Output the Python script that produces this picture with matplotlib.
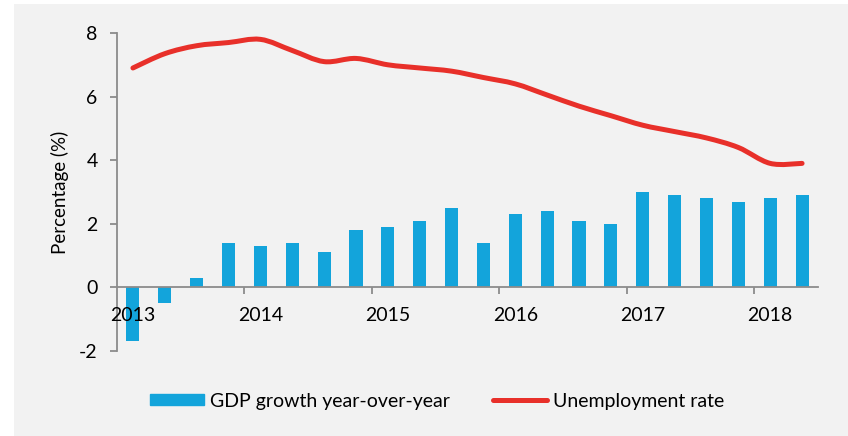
import matplotlib.pyplot as plt
import matplotlib.patches as mpatches
from matplotlib.path import Path
from matplotlib.lines import Line2D
import numpy as np

plt.rcParams['font.family'] = ['Lato', 'DejaVu Sans']

# quarterly data, 2013 Q1 .. 2018 Q2
years = ['2013', '2014', '2015', '2016', '2017', '2018']
gdp_growth = [-1.7, -0.5, 0.3, 1.4,
              1.3, 1.4, 1.1, 1.8,
              1.9, 2.1, 2.5, 1.4,
              2.3, 2.4, 2.1, 2.0,
              3.0, 2.9, 2.8, 2.7,
              2.8, 2.9]
unemployment = [6.9, 7.35, 7.6, 7.7,
                7.8, 7.45, 7.1, 7.2,
                7.0, 6.9, 6.8, 6.6,
                6.4, 6.05, 5.7, 5.4,
                5.1, 4.9, 4.7, 4.4,
                3.9, 3.9]

BLUE = '#13a4db'
RED = '#e8302a'
GREY = '#8c8c8c'
BG = '#f2f2f2'


def smooth_path(x, y):
    # Catmull-Rom style bezier through every point (like a "smoothed" line)
    pts = np.column_stack([x, y]).astype(float)
    n = len(pts)
    verts = [pts[0]]
    codes = [Path.MOVETO]
    for i in range(n - 1):
        p0 = pts[max(i - 1, 0)]
        p1 = pts[i]
        p2 = pts[i + 1]
        p3 = pts[min(i + 2, n - 1)]
        c1 = p1 + (p2 - p0) / 6.0
        c2 = p2 - (p3 - p1) / 6.0
        verts += [c1, c2, p2]
        codes += [Path.CURVE4] * 3
    return Path(verts, codes)


fig = plt.figure(figsize=(8.48, 4.36), dpi=100)
fig.patch.set_facecolor('white')
fig.patches.append(mpatches.Rectangle((14 / 848, 0), 1, 1 - 4 / 436,
                                      transform=fig.transFigure,
                                      facecolor=BG, edgecolor='none', zorder=-10))

ax = fig.add_axes([117 / 848, 1 - 351 / 436, (818 - 117) / 848, (351 - 33) / 436])
ax.set_facecolor('none')

x = np.arange(len(gdp_growth))
ax.bar(x, gdp_growth, width=0.41, color=BLUE, zorder=1)

curve = mpatches.PathPatch(smooth_path(x, unemployment), facecolor='none',
                           edgecolor=RED, linewidth=3.6, capstyle='round',
                           joinstyle='round', zorder=3)
ax.add_patch(curve)

ax.set_xlim(-0.5, len(gdp_growth) - 0.5)
ax.set_ylim(-2, 8)

for side in ['top', 'right']:
    ax.spines[side].set_visible(False)
ax.spines['bottom'].set_position(('data', 0))
for side in ['left', 'bottom']:
    ax.spines[side].set_color(GREY)
    ax.spines[side].set_linewidth(1.3)
# year labels sit on top of the negative bars
ax.xaxis.set_zorder(2.6)

ax.set_yticks([-2, 0, 2, 4, 6, 8])
ax.set_yticklabels(['-2', '0', '2', '4', '6', '8'])
ax.set_xticks(np.arange(-0.5, len(gdp_growth), 4)[1:])
ax.set_xticks(np.arange(0, len(gdp_growth), 4), minor=True)
ax.set_xticklabels([])
ax.set_xticklabels(years, minor=True)
ax.tick_params(axis='y', direction='out', length=5, width=1.3, color=GREY,
               labelsize=14, pad=9)
ax.tick_params(axis='x', which='major', direction='out', length=5, width=1.3,
               color=GREY)
ax.tick_params(axis='x', which='minor', length=0, labelsize=14, pad=14)

ax.set_ylabel('Percentage (%)', fontsize=13.5)
ax.yaxis.set_label_coords(-0.069, 0.5)

handles = [mpatches.Patch(color=BLUE),
           Line2D([], [], color=RED, linewidth=3.6, solid_capstyle='round')]
fig.legend(handles, ['GDP growth year-over-year', 'Unemployment rate'],
           loc='center', bbox_to_anchor=(437 / 848, 1 - 401 / 436), ncol=2,
           frameon=False, fontsize=14, handlelength=2.8, handleheight=0.55,
           handletextpad=0.3, columnspacing=2.2)

plt.savefig('out.png', dpi=100)
